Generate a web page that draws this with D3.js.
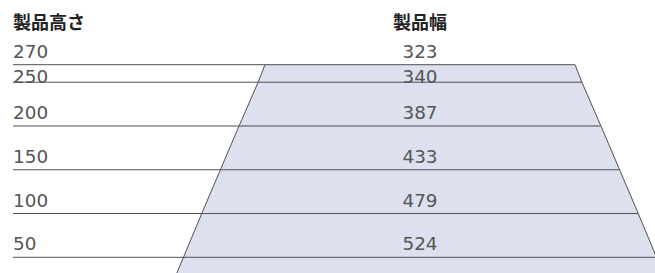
<!DOCTYPE html>
<html><head><meta charset="utf-8">
<script src="https://cdn.jsdelivr.net/npm/d3@7"></script>
<style>
html,body{margin:0;padding:0;background:#fff;}
svg{display:block;}
</style></head>
<body>
<svg id="chart" width="655" height="273"></svg>
<script>
const heightLabel = "製品高さ";
const widthLabel = "製品幅";
const heights = [270, 250, 200, 150, 100, 50];
const widths = [323, 340, 387, 433, 479, 524];

const W = 655, H = 273;
const svg = d3.select("#chart");
const cx = 420, leftX = 13;

const y = d3.scaleLinear().domain([270, 50]).range([64.7, 257.3]);
const wpx = d3.scaleLinear().domain([323, 524]).range([310, 473]);
// width as a function of height (for extending the shape to the bottom edge)
const hw = d3.scaleLinear().domain([heights[0], heights[heights.length-1]])
  .range([widths[0], widths[widths.length-1]]);

const hBottom = y.invert(H + 2);
const pts = heights.map((h, i) => ({y: y(h), w: wpx(widths[i])}));
pts.push({y: y(hBottom), w: wpx(hw(hBottom))});

const poly = pts.map(p => [cx - p.w/2, p.y])
  .concat(pts.slice().reverse().map(p => [cx + p.w/2, p.y]));

svg.append("path")
  .attr("d", d3.line()(poly) + "Z")
  .attr("fill", "#dde0ef");

const edge = "#505050";
svg.append("path").attr("d", d3.line()(pts.map(p => [cx - p.w/2, p.y])))
  .attr("fill", "none").attr("stroke", edge).attr("stroke-width", 1);
svg.append("path").attr("d", d3.line()(pts.map(p => [cx + p.w/2, p.y])))
  .attr("fill", "none").attr("stroke", edge).attr("stroke-width", 1);

heights.forEach((h, i) => {
  svg.append("line")
    .attr("x1", leftX).attr("x2", cx + wpx(widths[i]) / 2)
    .attr("y1", y(h)).attr("y2", y(h))
    .attr("stroke", edge).attr("stroke-width", 1);
});

const hdrFont = "'Noto Sans CJK JP', 'Noto Sans', sans-serif";
svg.append("text").attr("x", leftX).attr("y", 28.5)
  .attr("font-family", hdrFont).attr("font-weight", 700).attr("font-size", 18)
  .attr("fill", "#222").text(heightLabel);
svg.append("text").attr("x", cx).attr("y", 28.5).attr("text-anchor", "middle")
  .attr("font-family", hdrFont).attr("font-weight", 700).attr("font-size", 18)
  .attr("fill", "#222").text(widthLabel);

const numFont = "'DejaVu Sans', sans-serif";
heights.forEach((h, i) => {
  const ly = y(h);
  const prev = i > 0 ? y(heights[i-1]) : -Infinity;
  const base = Math.max(prev + 18.3, ly - 7);
  svg.append("text").attr("x", leftX).attr("y", base)
    .attr("font-family", numFont).attr("font-size", 18.4).attr("fill", "#555")
    .text(h);
  svg.append("text").attr("x", cx).attr("y", base).attr("text-anchor", "middle")
    .attr("font-family", numFont).attr("font-size", 18.4).attr("fill", "#555")
    .text(widths[i]);
});
</script>
</body></html>
